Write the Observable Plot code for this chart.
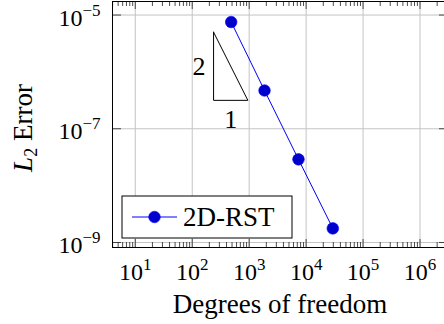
<!DOCTYPE html>
<html><head><meta charset="utf-8">
<script src="https://cdn.jsdelivr.net/npm/d3@7"></script>
<script src="https://cdn.jsdelivr.net/npm/@observablehq/plot@0.6"></script>
<style>
html,body{margin:0;padding:0;background:#fff;overflow:hidden;width:444px;height:324px}
#chart{width:444px;height:324px;overflow:hidden}
#chart svg{display:block;max-width:none !important}
</style></head><body><div id="chart"></div>
<script>
// ---- data ----
const dofs = [483, 1860, 7340, 29400];
const errors = [7.53e-6, 4.71e-7, 2.9e-8, 1.77e-9];
const seriesName = "2D-RST";
const xTickExponents = [1, 2, 3, 4, 5, 6];
const yTickExponents = [-9, -7, -5];
const slopeX = [237, 237, 948, 237];
const slopeY = [5.0e-6, 3.16e-7, 3.16e-7, 5.0e-6];
const slopeRise = "2";
const slopeRun = "1";
const xLabel = "Degrees of freedom";
const yLabelMain = "L", yLabelSub = "2", yLabelRest = " Error";
const lineColor = "#0000ff", markFill = "#0000cc";

// ---- layout ----
const W = 460, H = 324, ML = 112, MR = 12, MT = 1, MB = 77;
const plotW = W - ML - MR, plotH = H - MT - MB;
const xDomain = [10 ** 0.6, 10 ** 6.5];
const yDomain = [10 ** -9.088, 10 ** -4.762];
const FONT = "'Liberation Serif', 'DejaVu Serif', serif";

const xMajor = xTickExponents.map(e => 10 ** e);
const yMajor = yTickExponents.map(e => 10 ** e);
const xMinor = [];
for (let e = 0; e <= 6; e++) for (let k = 2; k <= 9; k++) {
  const v = k * 10 ** e;
  if (v >= xDomain[0] && v <= xDomain[1]) xMinor.push(v);
}
const data = dofs.map((x, i) => ({x, y: errors[i]}));
const tri = slopeX.map((x, i) => ({x, y: slopeY[i]}));
const riseLabel = [{x: slopeX[0], y: Math.sqrt(slopeY[0] * slopeY[1]), t: slopeRise}];
const runLabel = [{x: Math.sqrt(slopeX[1] * slopeX[2]), y: slopeY[1], t: slopeRun}];
const sup = e => "10^" + String(e).replace("-", "\u2212");
const tickStroke = {stroke: "#222", strokeWidth: 0.8};

const chart = Plot.plot({
  width: W, height: H, marginLeft: ML, marginRight: MR, marginTop: MT, marginBottom: MB,
  style: {fontFamily: FONT, background: "white", overflow: "visible", maxWidth: "none"},
  x: {type: "log", domain: xDomain},
  y: {type: "log", domain: yDomain},
  marks: [
    Plot.gridX(xMajor, {stroke: "#c4c4c4", strokeOpacity: 1, strokeWidth: 1}),
    Plot.gridY(yMajor, {stroke: "#c4c4c4", strokeOpacity: 1, strokeWidth: 1}),
    Plot.tickX(xMinor, {x: d => d, insetBottom: plotH - 5, ...tickStroke}),
    Plot.tickX(xMinor, {x: d => d, insetTop: plotH - 5, ...tickStroke}),
    Plot.tickX(xMajor, {x: d => d, insetBottom: plotH - 8, ...tickStroke}),
    Plot.tickX(xMajor, {x: d => d, insetTop: plotH - 8, ...tickStroke}),
    Plot.tickY(yMajor, {y: d => d, insetRight: plotW - 9, ...tickStroke}),
    Plot.tickY(yMajor, {y: d => d, insetLeft: plotW - 9, ...tickStroke}),
    Plot.frame({stroke: "black", strokeWidth: 1}),
    Plot.axisX(xMajor, {tickSize: 0, tickPadding: 15, fontSize: 24, tickFormat: d => sup(Math.round(Math.log10(d))), label: null}),
    Plot.axisY(yMajor, {tickSize: 0, tickPadding: 12, fontSize: 24, dy: 3, tickFormat: d => sup(Math.round(Math.log10(d))), label: null}),
    Plot.line(tri, {x: "x", y: "y", stroke: "black", strokeWidth: 1}),
    Plot.text(riseLabel, {x: "x", y: "y", text: "t", textAnchor: "end", dx: -8, fontSize: 26}),
    Plot.text(runLabel, {x: "x", y: "y", text: "t", dy: 19, fontSize: 26}),
    Plot.line(data, {x: "x", y: "y", stroke: lineColor, strokeWidth: 1}),
    Plot.dot(data, {x: "x", y: "y", r: 5.8, fill: markFill, stroke: lineColor, strokeWidth: 0.6})
  ]
});
document.getElementById("chart").appendChild(chart);

const svg = d3.select(chart);
svg.attr("font-family", FONT).style("max-width", "none").style("width", W + "px");
svg.selectAll("text").attr("font-family", FONT);

// superscript tick labels
svg.selectAll('g[aria-label="x-axis tick label"] text, g[aria-label="y-axis tick label"] text').each(function () {
  const s = this.textContent;
  if (!s.includes("^")) return;
  const [base, exp] = s.split("^");
  const t = d3.select(this);
  t.text(null);
  t.append("tspan").text(base);
  t.append("tspan").attr("dy", -10).attr("font-size", 17).text(exp);
});

// axis labels
svg.append("text").attr("x", ML + plotW / 2).attr("y", 313).attr("text-anchor", "middle")
  .attr("font-family", FONT).attr("font-size", 27).attr("fill", "black").text(xLabel);
const yl = svg.append("text").attr("transform", `translate(32,${MT + plotH / 2 + 4}) rotate(-90)`)
  .attr("text-anchor", "middle").attr("font-family", FONT).attr("font-size", 27).attr("fill", "black");
yl.append("tspan").attr("font-style", "italic").text(yLabelMain);
yl.append("tspan").attr("font-size", 18).attr("dy", 5).text(yLabelSub);
yl.append("tspan").attr("dy", -5).text(yLabelRest);

// legend
const lg = svg.append("g");
lg.append("rect").attr("x", 122).attr("y", 196).attr("width", 170).attr("height", 42)
  .attr("fill", "white").attr("stroke", "black").attr("stroke-width", 1);
lg.append("line").attr("x1", 132).attr("x2", 177).attr("y1", 217).attr("y2", 217)
  .attr("stroke", lineColor).attr("stroke-width", 1);
lg.append("circle").attr("cx", 154.5).attr("cy", 217).attr("r", 5.8)
  .attr("fill", markFill).attr("stroke", lineColor).attr("stroke-width", 0.6);
lg.append("text").attr("x", 183).attr("y", 226).attr("text-anchor", "start").attr("font-family", FONT).attr("font-size", 27)
  .attr("fill", "black").text(seriesName);
</script>
</body></html>
